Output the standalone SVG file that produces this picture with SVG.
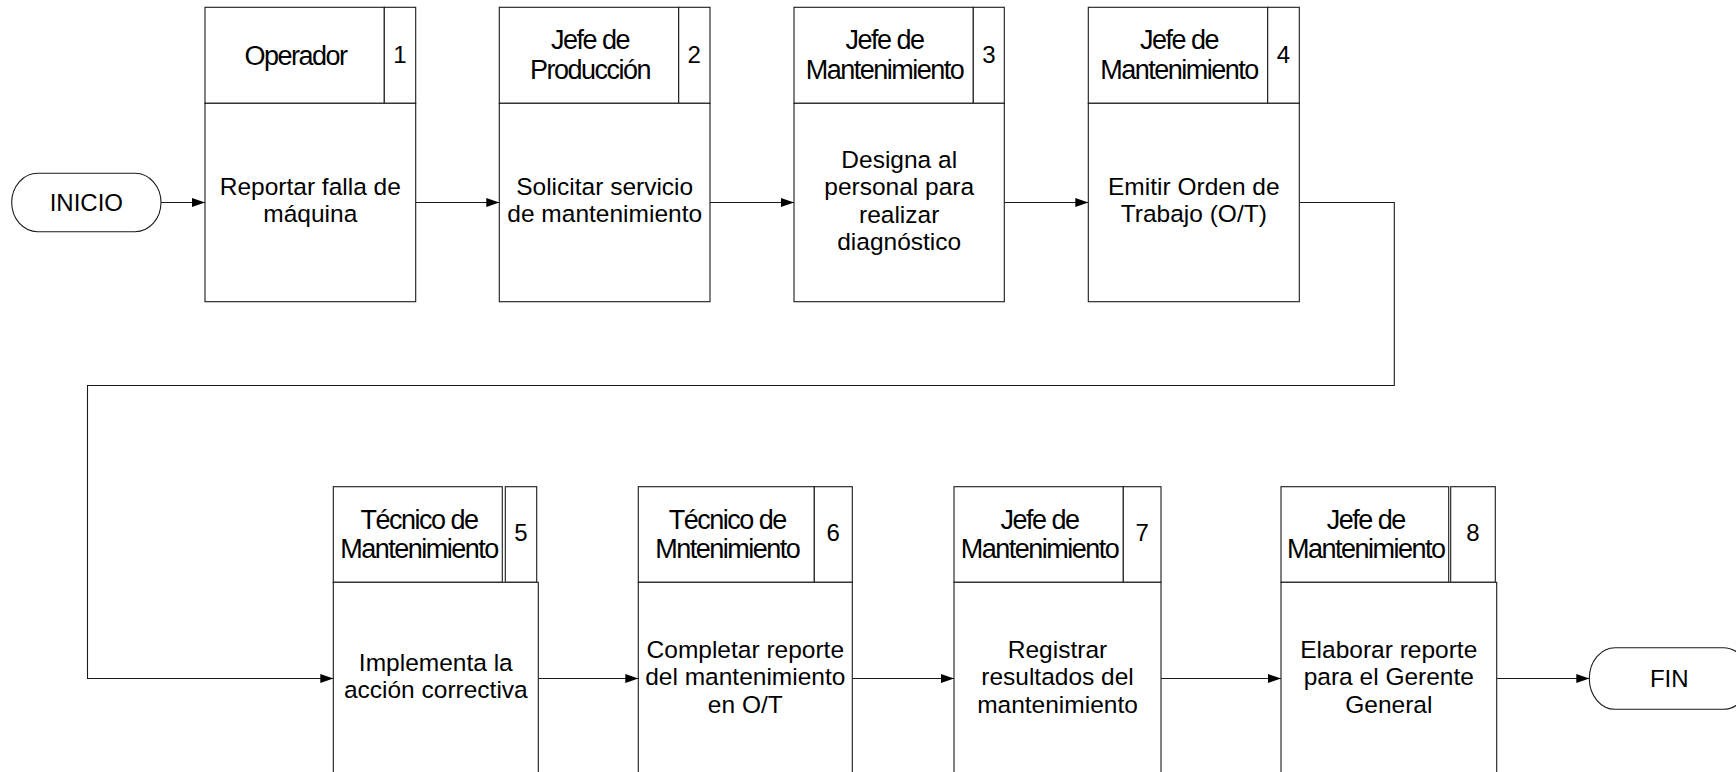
<svg xmlns="http://www.w3.org/2000/svg" width="1736" height="772" viewBox="0 0 1736 772">
  <style>
    .cell { fill: #ffffff; stroke: #1a1a1a; stroke-width: 1.1; }
    .term { fill: #ffffff; stroke: #1a1a1a; stroke-width: 1.1; }
    .wire { fill: none; stroke: #1a1a1a; stroke-width: 1.1; marker-end: url(#arrow); }
    text { font-family: "Liberation Sans", Arial, sans-serif; fill: #000; text-anchor: middle; }
    .hdr { font-size: 27px; letter-spacing: -1.5px; }
    .num { font-size: 24px; }
    .txt { font-size: 24.5px; }
    .trm { font-size: 24px; }
  </style>
  <defs>
    <marker id="arrow" markerUnits="userSpaceOnUse" markerWidth="14" markerHeight="10" refX="13" refY="4.5" orient="auto">
      <path d="M0,0 L13,4.5 L0,9 Z" fill="#000"/>
    </marker>
  </defs>

  <rect width="1736" height="772" fill="#ffffff"/>

  <!-- connectors -->
  <g id="connectors">
    <path class="wire" d="M161,202.5 H205"/>
    <path class="wire" d="M415.7,202.5 H499.3"/>
    <path class="wire" d="M710,202.5 H794"/>
    <path class="wire" d="M1004.3,202.5 H1088.3"/>
    <path class="wire" d="M1299.3,202.5 H1394.3 V385.5 H87.5 V678.5 H333.3"/>
    <path class="wire" d="M538.3,678.5 H638.3"/>
    <path class="wire" d="M852.3,678.5 H954"/>
    <path class="wire" d="M1161,678.5 H1281"/>
    <path class="wire" d="M1496.7,678.5 H1589.3"/>
  </g>

  <!-- start terminator -->
  <g id="inicio">
    <rect class="term" x="11.7" y="173.3" width="149.3" height="58.4" rx="26" ry="29.2"/>
    <text class="trm" x="86.3" y="211">INICIO</text>
  </g>

  <!-- step 1 -->
  <g id="step1">
    <rect class="cell" x="205" y="7.3" width="179.3" height="96"/>
    <rect class="cell" x="384.3" y="7.3" width="31.4" height="96"/>
    <rect class="cell" x="205" y="103.3" width="210.7" height="198.4"/>
    <text class="hdr" x="295.5" y="64.5">Operador</text>
    <text class="num" x="400" y="63">1</text>
    <text class="txt" x="310.3" y="195.3">Reportar falla de</text>
    <text class="txt" x="310.3" y="222.3">máquina</text>
  </g>

  <!-- step 2 -->
  <g id="step2">
    <rect class="cell" x="499.3" y="7.3" width="179.4" height="96"/>
    <rect class="cell" x="678.7" y="7.3" width="31.3" height="96"/>
    <rect class="cell" x="499.3" y="103.3" width="210.7" height="198.4"/>
    <text class="hdr" x="590" y="48.5">Jefe de</text>
    <text class="hdr" x="590" y="79">Producción</text>
    <text class="num" x="694.3" y="63">2</text>
    <text class="txt" x="604.7" y="195.3">Solicitar servicio</text>
    <text class="txt" x="604.7" y="222.3">de mantenimiento</text>
  </g>

  <!-- step 3 -->
  <g id="step3">
    <rect class="cell" x="794" y="7.3" width="179.3" height="96"/>
    <rect class="cell" x="973.3" y="7.3" width="31" height="96"/>
    <rect class="cell" x="794" y="103.3" width="210.3" height="198.4"/>
    <text class="hdr" x="884.5" y="48.5">Jefe de</text>
    <text class="hdr" x="884.5" y="79">Mantenimiento</text>
    <text class="num" x="989" y="63">3</text>
    <text class="txt" x="899.2" y="167.5">Designa al</text>
    <text class="txt" x="899.2" y="195">personal para</text>
    <text class="txt" x="899.2" y="222.5">realizar</text>
    <text class="txt" x="899.2" y="250">diagnóstico</text>
  </g>

  <!-- step 4 -->
  <g id="step4">
    <rect class="cell" x="1088.3" y="7.3" width="179.4" height="96"/>
    <rect class="cell" x="1267.7" y="7.3" width="31.6" height="96"/>
    <rect class="cell" x="1088.3" y="103.3" width="211" height="198.4"/>
    <text class="hdr" x="1179" y="48.5">Jefe de</text>
    <text class="hdr" x="1179" y="79">Mantenimiento</text>
    <text class="num" x="1283.5" y="63">4</text>
    <text class="txt" x="1193.8" y="195.3">Emitir Orden de</text>
    <text class="txt" x="1193.8" y="222.3">Trabajo (O/T)</text>
  </g>

  <!-- step 5 -->
  <g id="step5">
    <rect class="cell" x="333.3" y="486.7" width="169" height="95.6"/>
    <rect class="cell" x="505.3" y="486.7" width="31.4" height="95.6"/>
    <rect class="cell" x="333.3" y="582.3" width="205" height="200"/>
    <text class="hdr" x="419" y="528.5">Técnico de</text>
    <text class="hdr" x="419" y="558">Mantenimiento</text>
    <text class="num" x="521" y="541">5</text>
    <text class="txt" x="435.8" y="671.3">Implementa la</text>
    <text class="txt" x="435.8" y="698.3">acción correctiva</text>
  </g>

  <!-- step 6 -->
  <g id="step6">
    <rect class="cell" x="638.3" y="486.7" width="176" height="95.6"/>
    <rect class="cell" x="814.3" y="486.7" width="38" height="95.6"/>
    <rect class="cell" x="638.3" y="582.3" width="214" height="200"/>
    <text class="hdr" x="727.3" y="528.5">Técnico de</text>
    <text class="hdr" x="727.3" y="558">Mntenimiento</text>
    <text class="num" x="833.3" y="541">6</text>
    <text class="txt" x="745.3" y="657.5">Completar reporte</text>
    <text class="txt" x="745.3" y="685">del mantenimiento</text>
    <text class="txt" x="745.3" y="712.5">en O/T</text>
  </g>

  <!-- step 7 -->
  <g id="step7">
    <rect class="cell" x="954" y="486.7" width="169.3" height="95.6"/>
    <rect class="cell" x="1123.3" y="486.7" width="37.7" height="95.6"/>
    <rect class="cell" x="954" y="582.3" width="207" height="200"/>
    <text class="hdr" x="1039.5" y="528.5">Jefe de</text>
    <text class="hdr" x="1039.5" y="558">Mantenimiento</text>
    <text class="num" x="1142.2" y="541">7</text>
    <text class="txt" x="1057.5" y="657.5">Registrar</text>
    <text class="txt" x="1057.5" y="685">resultados del</text>
    <text class="txt" x="1057.5" y="712.5">mantenimiento</text>
  </g>

  <!-- step 8 -->
  <g id="step8">
    <rect class="cell" x="1281" y="486.7" width="167.7" height="95.6"/>
    <rect class="cell" x="1450.7" y="486.7" width="44.6" height="95.6"/>
    <rect class="cell" x="1281" y="582.3" width="215.7" height="200"/>
    <text class="hdr" x="1365.8" y="528.5">Jefe de</text>
    <text class="hdr" x="1365.8" y="558">Mantenimiento</text>
    <text class="num" x="1473" y="541">8</text>
    <text class="txt" x="1388.8" y="657.5">Elaborar reporte</text>
    <text class="txt" x="1388.8" y="685">para el Gerente</text>
    <text class="txt" x="1388.8" y="712.5">General</text>
  </g>

  <!-- end terminator -->
  <g id="fin">
    <rect class="term" x="1589.3" y="647.7" width="160" height="61.6" rx="26" ry="30.8"/>
    <text class="trm" x="1669.3" y="687">FIN</text>
  </g>
</svg>
